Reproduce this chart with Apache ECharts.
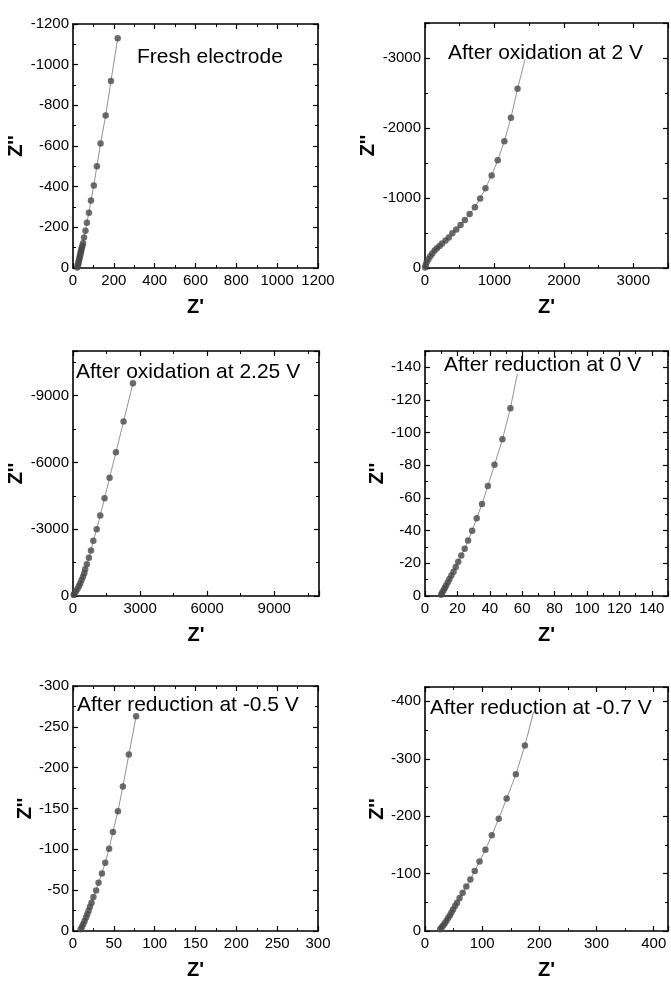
<!DOCTYPE html>
<html>
<head>
<meta charset="utf-8">
<script src="https://cdn.jsdelivr.net/npm/echarts@6/dist/echarts.min.js"></script>
<style>
html,body{margin:0;padding:0;background:#fff;}
#chart{width:671px;height:981px;}
</style>
</head>
<body>
<div id="chart"></div>
<script>
// ---- Data (Z' , -Z'') per panel ----
var titles = ["Fresh electrode", "After oxidation at 2 V", "After oxidation at 2.25 V",
              "After reduction at 0 V", "After reduction at -0.5 V", "After reduction at -0.7 V"];

var freshZre = [21, 23, 25, 27, 29, 31, 33, 35, 37, 39, 41, 43, 46, 49, 54, 61, 68, 78, 88, 102, 117, 135, 160, 186, 219];
var freshZim = [2, 10, 18, 27, 36, 45, 54, 63, 72, 81, 90, 100, 110, 122, 150, 183, 223, 272, 332, 406, 501, 612, 750, 920, 1130];
var freshTail = [];

var ox2Zre = [3, 10, 24, 48, 76, 105, 139, 171, 210, 247, 296, 343, 394, 450, 512, 574, 643, 719, 795, 871, 960, 1048, 1143, 1238, 1333];
var ox2Zim = [8, 39, 82, 125, 168, 206, 249, 282, 315, 349, 392, 435, 497, 549, 613, 685, 771, 869, 994, 1139, 1323, 1540, 1810, 2148, 2559];
var ox2Tail = [1440, 2980];

var ox225Zre = [30, 58, 134, 205, 268, 326, 384, 447, 505, 545, 620, 710, 804, 910, 1060, 1219, 1411, 1635, 1920, 2260, 2680];
var ox225Zim = [40, 103, 211, 328, 449, 570, 718, 867, 1019, 1199, 1430, 1713, 2043, 2477, 2995, 3615, 4385, 5310, 6450, 7830, 9550];
var ox225Tail = [];

var red0Zre = [10.0, 10.6, 11.4, 12.2, 13.0, 14.1, 15.1, 16.3, 17.6, 19.0, 20.5, 22.4, 24.5, 26.6, 29.1, 31.9, 35.2, 38.8, 42.9, 47.8, 52.7];
var red0Zim = [0.8, 2.0, 3.3, 4.9, 6.5, 8.4, 10.4, 12.6, 14.9, 17.7, 20.9, 24.8, 28.9, 34.0, 39.9, 47.6, 56.4, 67.3, 80.3, 96, 115];
var red0Tail = [57, 136];

var red05Zre = [9.3, 11.0, 12.6, 14.2, 15.9, 17.5, 19.1, 20.8, 22.7, 25.0, 28.3, 31.3, 35.4, 39.5, 44.2, 48.9, 55, 61.1, 68.4, 77.3];
var red05Zim = [2.1, 5.3, 8.5, 12.2, 16.4, 20.4, 24.9, 29.8, 34.7, 41.5, 49.7, 59.1, 70.5, 83.7, 100.8, 121.1, 146.5, 177, 216, 263];
var red05Tail = [];

var red07Zre = [26.5, 28.9, 31.7, 34.7, 37.6, 40.4, 43.4, 46.3, 49.1, 52.6, 56.1, 60.5, 65.9, 72.3, 79.3, 87, 95.4, 105.6, 116.8, 128.9, 142.8, 159, 174.7];
var red07Zim = [2.9, 5.9, 9.4, 13.4, 18, 22.6, 27.2, 32.4, 37.6, 43.4, 49.2, 57.3, 66.6, 77.3, 89.5, 104.7, 121.2, 141.5, 166.6, 195.5, 230.7, 273, 323];
var red07Tail = [190, 382];

// axis ranges: [max, major interval]
var axisMax = [1200, 3500, 11000, 150, 300, 425];
var axisInterval = [200, 1000, 3000, 20, 50, 100];

var panelRe = [freshZre, ox2Zre, ox225Zre, red0Zre, red05Zre, red07Zre];
var panelIm = [freshZim, ox2Zim, ox225Zim, red0Zim, red05Zim, red07Zim];
var panelTail = [freshTail, ox2Tail, ox225Tail, red0Tail, red05Tail, red07Tail];

// ---- Layout ----
var grids = [
  {left: 73, top: 24, width: 245, height: 244},
  {left: 425, top: 23, width: 245, height: 245},
  {left: 73, top: 351, width: 246, height: 245},
  {left: 425, top: 351, width: 245, height: 245},
  {left: 73, top: 686, width: 245, height: 246},
  {left: 425, top: 687, width: 245, height: 245}
];
var titlePos = [[137, 57], [448, 53], [76, 372], [444, 365], [77, 705], [430, 708]];
var yNameGap = [42, 44, 43, 36, 36, 36];

var FF = '"Liberation Sans", Arial, Helvetica, sans-serif';

var xAxes = [], yAxes = [], series = [], graphics = [];

function tickCommon() {
  return {
    axisLine: {show: true, onZero: false, lineStyle: {color: '#000', width: 1.6}},
    axisTick: {show: true, inside: true, length: 5, lineStyle: {color: '#000', width: 1.2}},
    minorTick: {show: true, splitNumber: 2, length: 3, lineStyle: {color: '#000', width: 1}},
    splitLine: {show: false},
    minorSplitLine: {show: false}
  };
}

for (var i = 0; i < 6; i++) {
  (function (i) {
    var mx = axisMax[i], iv = axisInterval[i];
    var bx = Object.assign({
      type: 'value', gridIndex: i, position: 'bottom', min: 0, max: mx, interval: iv,
      name: "Z'", nameLocation: 'middle', nameGap: 29,
      nameTextStyle: {fontSize: 20, fontWeight: 'bold', fontFamily: FF, color: '#000'},
      axisLabel: {fontSize: 15, color: '#000', fontFamily: FF, margin: 5,
        formatter: function (v) { return (Math.round(v) % iv === 0) ? String(Math.round(v)) : ''; }}
    }, tickCommon());
    var tx = Object.assign({
      type: 'value', gridIndex: i, position: 'top', min: 0, max: mx, interval: iv,
      axisLabel: {show: false}
    }, tickCommon());
    var ly = Object.assign({
      type: 'value', gridIndex: i, position: 'left', min: 0, max: mx, interval: iv,
      name: "Z''", nameLocation: 'middle', nameGap: yNameGap[i], nameRotate: 90,
      nameTextStyle: {fontSize: 20, fontWeight: 'bold', fontFamily: FF, color: '#000'},
      axisLabel: {fontSize: 15, color: '#000', fontFamily: FF, margin: 4,
        formatter: function (v) {
          v = Math.round(v);
          if (v === 0) return '0';
          return (v % iv === 0) ? '-' + v : '';
        }}
    }, tickCommon());
    var ry = Object.assign({
      type: 'value', gridIndex: i, position: 'right', min: 0, max: mx, interval: iv,
      axisLabel: {show: false}
    }, tickCommon());
    xAxes.push(bx, tx);
    yAxes.push(ly, ry);

    var pts = panelRe[i].map(function (x, k) { return [x, panelIm[i][k]]; });
    var linePts = pts.slice();
    if (panelTail[i].length) linePts.push([panelTail[i][0], panelTail[i][1]]);

    series.push({
      type: 'line', xAxisIndex: 2 * i, yAxisIndex: 2 * i, data: linePts,
      showSymbol: false, symbol: 'none', silent: true, animation: false,
      lineStyle: {color: '#777', width: 0.8}, z: 2
    });
    series.push({
      type: 'scatter', xAxisIndex: 2 * i, yAxisIndex: 2 * i, data: pts,
      symbol: 'circle', symbolSize: 6.5, animation: false,
      itemStyle: {color: '#484848'}, z: 3
    });

    graphics.push({
      type: 'text', x: titlePos[i][0], y: titlePos[i][1], z: 10,
      style: {text: titles[i], fontSize: 21, fontFamily: FF, fill: '#000',
        textAlign: 'left', textVerticalAlign: 'middle', align: 'left', verticalAlign: 'middle'}
    });
  })(i);
}

var chart = echarts.init(document.getElementById('chart'), null, {renderer: 'canvas'});
chart.setOption({
  backgroundColor: '#fff',
  animation: false,
  grid: grids,
  xAxis: xAxes,
  yAxis: yAxes,
  series: series,
  graphic: graphics
});
</script>
</body>
</html>
